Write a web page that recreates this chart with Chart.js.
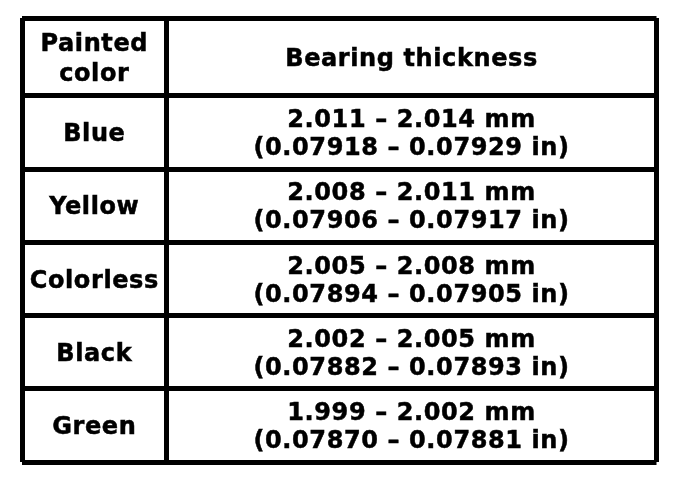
<!DOCTYPE html>
<html>
<head>
<meta charset="utf-8">
<script src="https://cdn.jsdelivr.net/npm/chart.js@4.4.0/dist/chart.umd.min.js"></script>
<style>
    html, body { margin: 0; padding: 0; background: #fff; }
    #wrap { width: 688px; height: 480px; }
</style>
</head>
<body>
<div id="wrap"><canvas id="myChart"></canvas></div>
<script>
// Dados da tabela
const headers = [['Painted', 'color'], ['Bearing thickness']];
const paintedColors = ['Blue', 'Yellow', 'Colorless', 'Black', 'Green'];
const mmMin = [2.011, 2.008, 2.005, 2.002, 1.999];
const mmMax = [2.014, 2.011, 2.008, 2.005, 2.002];
const inMin = [0.07918, 0.07906, 0.07894, 0.07882, 0.07870];
const inMax = [0.07929, 0.07917, 0.07905, 0.07893, 0.07881];

// Geometria da tabela em unidades dos eixos
const headerRow = 1.064;
const wideCol = 3.406;
const xEdges = [0, 1, 1 + wideCol];
const yEdges = [0, headerRow];
paintedColors.forEach((c, i) => yEdges.push(headerRow + i + 1));

// Células: centro de cada célula + linhas de texto
const cells = [];
cells.push({ x: 0.5, y: headerRow / 2, lines: headers[0], head: true });
cells.push({ x: 1 + wideCol / 2, y: headerRow / 2, lines: headers[1], head: true });
paintedColors.forEach((c, i) => {
    const y = headerRow + i + 0.5;
    cells.push({ x: 0.5, y: y, lines: [c] });
    cells.push({
        x: 1 + wideCol / 2,
        y: y,
        lines: [
            mmMin[i].toFixed(3) + ' \u2013 ' + mmMax[i].toFixed(3) + ' mm',
            '(' + inMin[i].toFixed(5) + ' \u2013 ' + inMax[i].toFixed(5) + ' in)'
        ]
    });
});

// Plugin que escreve o texto de cada célula na posição do ponto
const cellText = {
    id: 'cellText',
    afterDatasetsDraw(chart) {
        const ctx = chart.ctx;
        const meta = chart.getDatasetMeta(0);
        ctx.save();
        ctx.fillStyle = '#000';
        ctx.strokeStyle = '#000';
        ctx.lineWidth = 0.5;
        ctx.font = 'bold 24px "DejaVu Sans"';
        ctx.textAlign = 'center';
        ctx.textBaseline = 'alphabetic';
        if ('letterSpacing' in ctx) ctx.letterSpacing = '0.6px';
        meta.data.forEach((pt, i) => {
            const cell = cells[i];
            const gap = cell.head ? 30 : 28;
            const n = cell.lines.length;
            cell.lines.forEach((line, k) => {
                const y = pt.y + 8.6 + (k - (n - 1) / 2) * gap;
                ctx.fillText(line, pt.x + 0.3, y);
                ctx.strokeText(line, pt.x + 0.3, y);
            });
        });
        ctx.restore();
    }
};

const axisGrid = { color: '#000', lineWidth: 5, drawTicks: false };

const ctx = document.getElementById('myChart').getContext('2d');
new Chart(ctx, {
    type: 'scatter',
    data: {
        datasets: [{
            data: cells.map(c => ({ x: c.x, y: c.y })),
            pointRadius: 0,
            pointHoverRadius: 0
        }]
    },
    options: {
        responsive: true,
        maintainAspectRatio: false,
        animation: false,
        events: [],
        layout: { padding: { left: 22, right: 31.5, top: 18, bottom: 18 } },
        plugins: { legend: { display: false }, tooltip: { enabled: false } },
        scales: {
            x: {
                type: 'linear',
                min: 0,
                max: xEdges[xEdges.length - 1],
                afterBuildTicks: axis => { axis.ticks = xEdges.map(v => ({ value: v })); },
                grid: axisGrid,
                border: { display: false },
                ticks: { display: false }
            },
            y: {
                type: 'linear',
                reverse: true,
                min: 0,
                max: yEdges[yEdges.length - 1],
                afterBuildTicks: axis => { axis.ticks = yEdges.map(v => ({ value: v })); },
                grid: axisGrid,
                border: { display: false },
                ticks: { display: false }
            }
        }
    },
    plugins: [cellText]
});
</script>
</body>
</html>
